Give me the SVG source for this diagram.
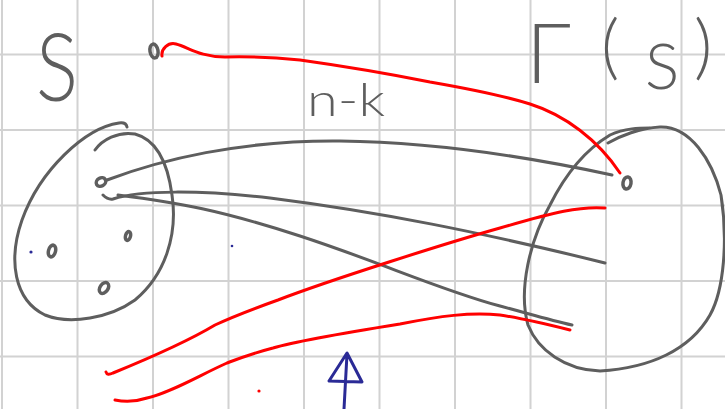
<svg xmlns="http://www.w3.org/2000/svg" width="725" height="409" viewBox="0 0 725 409">
<style>
.grid{stroke:#d2d2d2;stroke-width:2;fill:none}
.ink{stroke:#5e5e5e;stroke-width:3;fill:none;stroke-linecap:round;stroke-linejoin:round}
.red{stroke:#ff0000;stroke-width:3;fill:none;stroke-linecap:round;stroke-linejoin:round}
.blue{stroke:#2a2a96;stroke-width:3;fill:none;stroke-linecap:round;stroke-linejoin:round}
.pt{stroke:#5e5e5e;stroke-width:3.5;fill:none}
.lbl{fill:#5e5e5e;font-family:Lato,"Liberation Sans",sans-serif;font-weight:300}
</style>
<rect width="725" height="409" fill="#ffffff"/>
<g id="grid" class="grid">
<path d="M2,0V409M77.5,0V409M153,0V409M228.5,0V409M304,0V409M379.5,0V409M455,0V409M530.5,0V409M606,0V409M681.5,0V409"/>
<path d="M0,54.5H725M0,130H725M0,205.5H725M0,281H725M0,356.5H725"/>
</g>
<g id="label-S">
<text class="lbl" x="36" y="101" font-size="95" textLength="42" lengthAdjust="spacingAndGlyphs">S</text>
</g>
<g id="label-GammaS">
<text class="lbl"><tspan x="526" y="83" font-size="83">Γ</tspan><tspan x="601" y="71" font-size="71">(</tspan><tspan x="645" y="89" font-size="64">S</tspan><tspan x="694" y="71" font-size="71">)</tspan></text>
</g>
<g id="label-nk">
<text class="lbl" x="307" y="116" font-size="46" textLength="78" lengthAdjust="spacingAndGlyphs">n-k</text>
</g>
<g id="set-S">
<path class="ink" d="M127,127 Q126,122 119,123 C85,128 40,170 22,220 C8,260 14,300 45,315 C70,325 110,318 135,300 C165,275 178,235 172,195 C168,165 158,140 135,134 C118,131 102,140 95,150"/>
</g>
<g id="set-GammaS">
<path class="ink" d="M608,143 C620,136 640,128 660,127 C690,126 712,160 721,195 C728,240 724,290 710,315 C690,350 650,368 600,371 C565,370 538,350 528,325 C518,290 530,240 550,205 C565,175 585,150 610,135 C625,128 640,128 650,128"/>
</g>
<g id="points">
<ellipse id="p-top" class="pt" cx="154" cy="51" rx="4" ry="7" transform="rotate(-10 154 51)"/>
<ellipse id="p-a" class="pt" cx="101" cy="182" rx="5" ry="4" transform="rotate(-30 101 182)"/>
<ellipse id="p-b" class="pt" cx="52" cy="251" rx="3.5" ry="6" transform="rotate(15 52 251)"/>
<ellipse id="p-c" class="pt" cx="128" cy="236" rx="2.5" ry="4.5" transform="rotate(15 128 236)"/>
<ellipse id="p-d" class="pt" cx="104" cy="288" rx="4" ry="6" transform="rotate(35 104 288)"/>
<ellipse id="p-e" class="pt" cx="627" cy="183" rx="4" ry="6" transform="rotate(10 627 183)"/>
<circle cx="31" cy="252" r="1.6" fill="#2a2a96"/>
<circle cx="232" cy="246" r="1.3" fill="#2a2a96"/>
<circle cx="259" cy="391" r="1.6" fill="#ff0000"/>
</g>
<g id="connectors">
<path class="ink" d="M107,180 C160,160 240,140 340,141 C430,142 520,155 612,175"/>
<path class="ink" d="M103,195 Q108,200 113,199 C140,190 200,190 270,198 C380,212 480,232 605,263"/>
<path class="ink" d="M118,195 C180,203 220,210 300,236 C380,262 440,290 500,306 C530,314 550,320 572,325"/>
<path class="red" d="M162,56 C161,49 168,42 176,44 C188,47 200,57 225,57 C260,56 280,58 300,60 C350,67 400,76 430,82 C470,89 505,96 530,104 C565,115 598,140 620,173"/>
<path class="red" d="M605,208 C580,206 555,212 500,228 C450,242 330,280 278,300 C250,310 230,318 215,325 C190,340 157,355 113,373 Q107,376 106,372"/>
<path class="red" d="M570,330 C550,325 520,318 500,315 C470,312 440,316 400,324 C350,332 300,340 273,348 C250,354 240,358 227,363 C200,375 170,393 147,398 C135,402 125,402 115,400"/>
<path class="blue" d="M344,409 L347,354 M347,353 L329,381 L362,382 Z"/>
</g>
</svg>
